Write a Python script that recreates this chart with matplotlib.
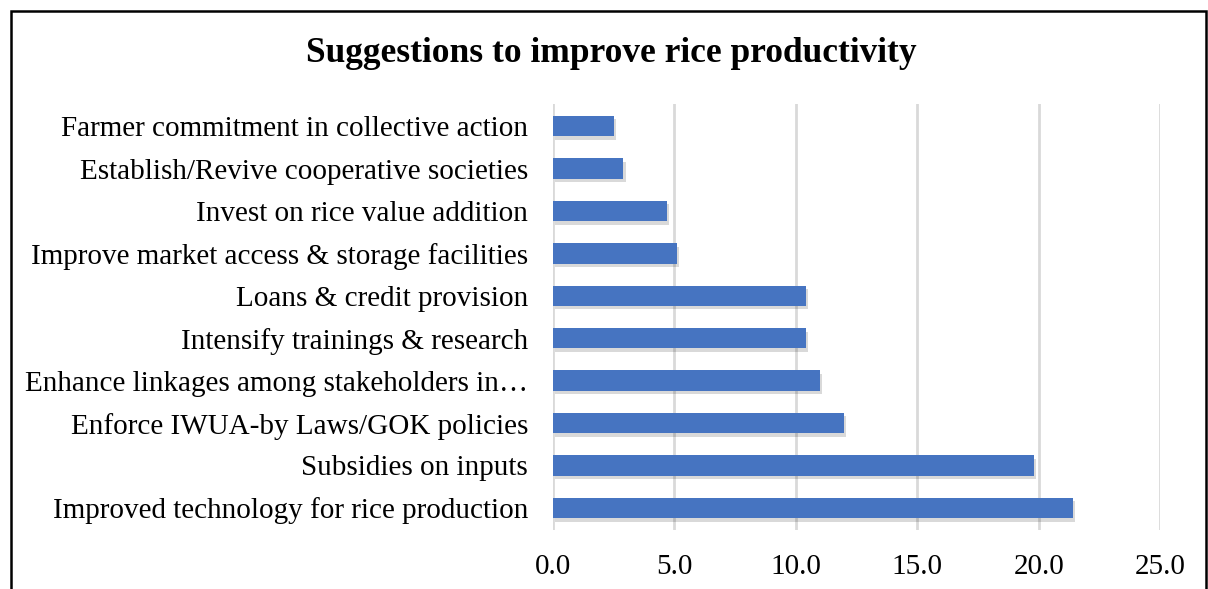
import matplotlib.pyplot as plt
import matplotlib.patheffects as pe
from matplotlib.patches import Rectangle

# ---------- Data ----------
suggestions = [
    "Improved technology for rice production",
    "Subsidies on inputs",
    "Enforce IWUA-by Laws/GOK policies",
    "Enhance linkages among stakeholders in\u2026",
    "Intensify trainings & research",
    "Loans & credit provision",
    "Improve market access & storage facilities",
    "Invest on rice value addition",
    "Establish/Revive cooperative societies",
    "Farmer commitment in collective action",
]
percent = [21.4, 19.8, 12.0, 11.0, 10.4, 10.4, 5.1, 4.7, 2.9, 2.5]
x_ticks = [0, 5, 10, 15, 20, 25]

# ---------- Plot ----------
plt.rcParams['font.family'] = ['Liberation Serif', 'DejaVu Serif']

fig = plt.figure(figsize=(12.08, 5.89), dpi=100)
ax = fig.add_axes([0.4578, 0.1002, 0.5025, 0.7232])

bars = ax.barh(range(len(suggestions)), percent, height=0.48,
               color='#4674C1', zorder=3)
for b in bars:
    b.set_path_effects([
        pe.SimplePatchShadow(offset=(1.5, -2.5), shadow_rgbFace='#000000', alpha=0.15),
        pe.Normal(),
    ])

ax.set_xlim(0, 25)
ax.set_ylim(-0.52, 9.52)
ax.set_xticks(x_ticks)
ax.set_xticklabels([f"{t:.1f}" for t in x_ticks], fontsize=21)
ax.set_yticks(range(len(suggestions)))
ax.set_yticklabels(suggestions, fontsize=21)
ax.tick_params(axis='y', length=0, pad=18)
ax.tick_params(axis='x', length=0, pad=17)

ax.grid(axis='x', color='#D9D9D9', linewidth=2, zorder=0)
for s in ax.spines.values():
    s.set_visible(False)

fig.text(0.506, 1 - 54 / 589, "Suggestions to improve rice productivity",
         ha='center', va='center', fontsize=25.5, fontweight='bold')

# outer chart frame, clipped at right and bottom
fig.patches.append(Rectangle((11 / 1208, -0.2), (1206 - 11) / 1208, 1.2 - 11 / 589,
                             transform=fig.transFigure, fill=False,
                             edgecolor='black', linewidth=1.8))

fig.savefig("out.png", dpi=100)
